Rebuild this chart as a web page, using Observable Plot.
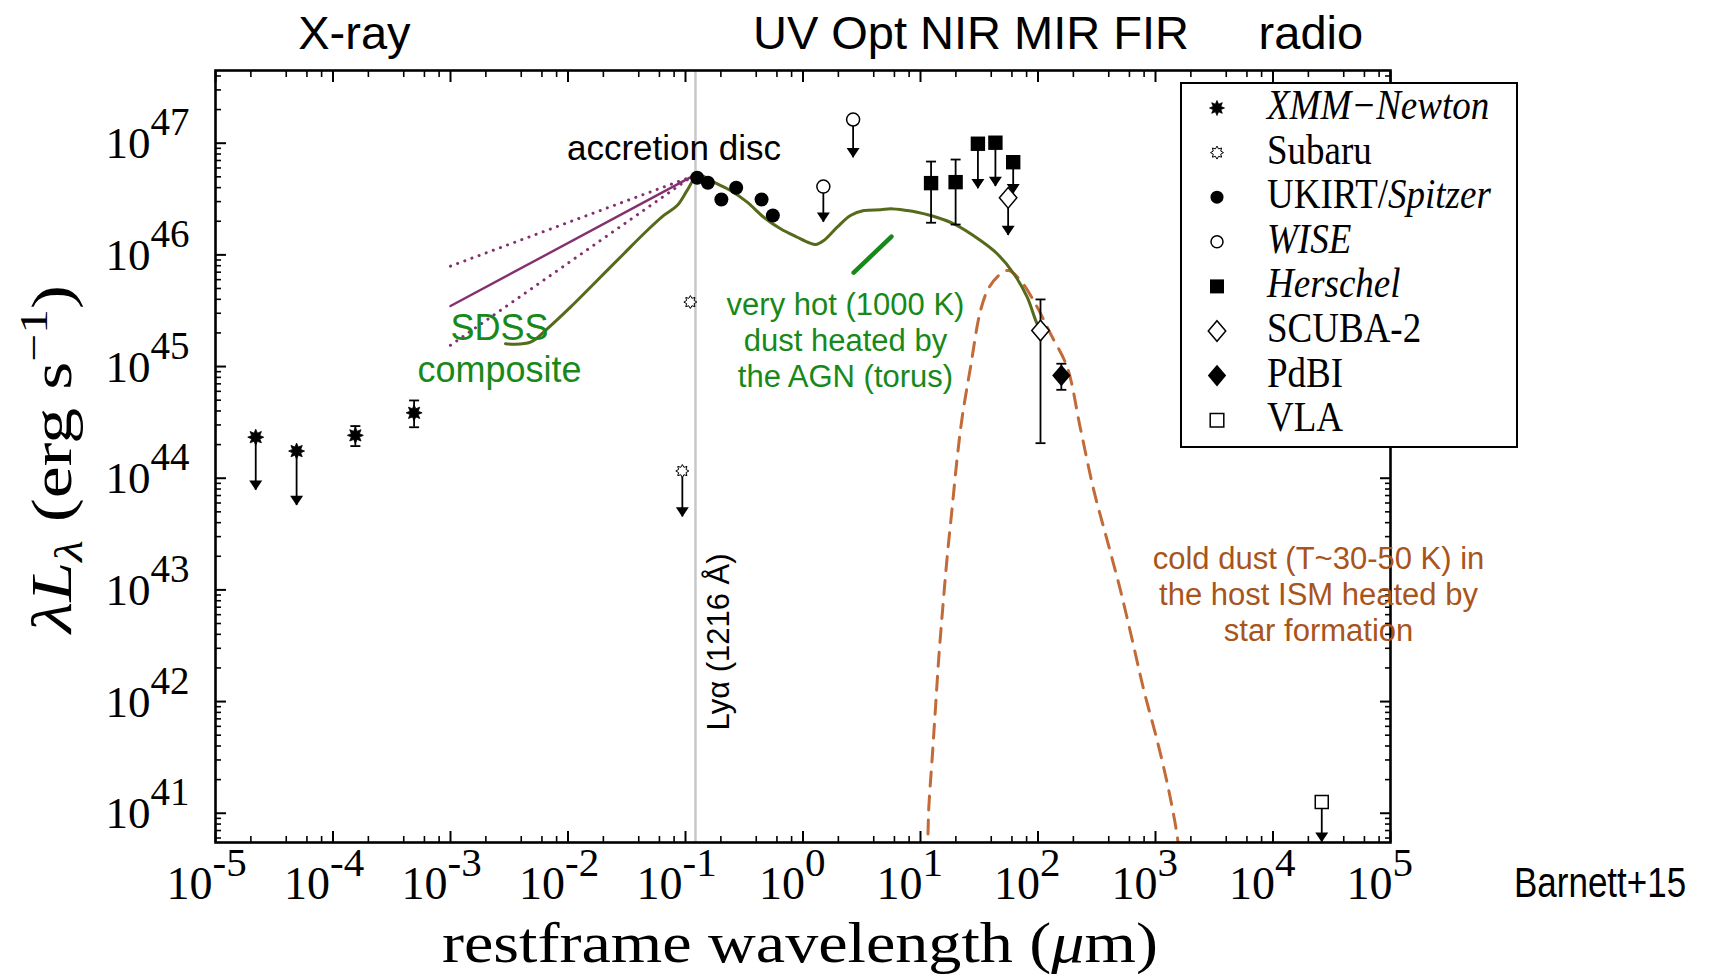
<!DOCTYPE html>
<html>
<head>
<meta charset="utf-8">
<script src="https://cdn.jsdelivr.net/npm/d3@7"></script>
<script src="https://cdn.jsdelivr.net/npm/@observablehq/plot@0.6"></script>
<style>
  body { margin: 0; background: #fff; }
  #chart { width: 1715px; height: 977px; }
</style>
</head>
<body>
<div id="chart"></div>
<script>
// ---------------- DATA ----------------
// axis ticks
const xTickExp = [-5, -4, -3, -2, -1, 0, 1, 2, 3, 4, 5];
const xMinorMult = [2, 4, 6, 8];
const yTickExp = [41, 42, 43, 44, 45, 46, 47];
const yMinorMult = [2, 3, 4, 5, 6, 7, 8, 9];
const yDomainExp = [40.738, 47.651];

// XMM-Newton (filled 8-point stars)
const xmmLam = [2.2e-5, 4.9e-5, 1.55e-4, 4.9e-4];
const xmmL = [2.33e44, 1.75e44, 2.42e44, 3.85e44];
const xmmLimitTo = [7.8e43, 5.7e43, null, null];
const xmmErrLo = [null, null, 1.94e44, 2.86e44];
const xmmErrHi = [null, null, 2.93e44, 4.97e44];

// Subaru (open stars)
const subaruLam = [0.094, 0.110];
const subaruL = [1.16e44, 3.78e45];
const subaruLimitTo = [4.5e43, null];

// UKIRT / Spitzer (filled circles)
const ukirtLam = [0.1256, 0.155, 0.202, 0.270, 0.444, 0.554];
const ukirtL = [4.90e46, 4.42e46, 3.13e46, 3.99e46, 3.13e46, 2.25e46];

// WISE (open circles, upper limits)
const wiseLam = [1.49, 2.67];
const wiseL = [4.09e46, 1.63e47];
const wiseLimitTo = [1.96e46, 7.40e46];

// Herschel (filled squares)
const herschelLam = [12.3, 19.9, 30.8, 43.4, 61.5];
const herschelL = [4.39e46, 4.48e46, 9.89e46, 1.01e47, 6.76e46];
const herschelLimitTo = [null, null, 3.91e46, 4.09e46, 3.52e46];
const herschelErrLo = [1.94e46, 1.87e46, null, null, null];
const herschelErrHi = [6.85e46, 7.14e46, null, null, null];

// SCUBA-2 (open diamonds)
const scubaLam = [55.7, 105];
const scubaL = [3.24e46, 2.10e45];
const scubaLimitTo = [1.49e46, null];
const scubaErrLo = [null, 2.06e44];
const scubaErrHi = [null, 3.99e45];

// PdBI (filled diamond)
const pdbiLam = [158];
const pdbiL = [8.32e44];
const pdbiErrLo = [6.19e44];
const pdbiErrHi = [1.06e45];

// VLA (open square, upper limit)
const vlaLam = [2.6e4];
const vlaL = [1.26e41];
const vlaLimitTo = [5.5e40];

// SED model curve (olive), log10 values
const sedLogLam = [-2.532, -2.319, -2.177, -1.979, -1.752, -1.525, -1.355, -1.185, -1.071, -0.986,
  -0.91, -0.85, -0.759, -0.617, -0.475, -0.334, -0.191, -0.049, 0.06, 0.106, 0.177, 0.291, 0.404,
  0.518, 0.660, 0.745, 0.887, 0.972, 1.085, 1.284, 1.511, 1.653, 1.794, 1.908, 1.993, 2.025];
const sedLogL = [45.204, 45.218, 45.338, 45.532, 45.771, 46.010, 46.189, 46.353, 46.442, 46.577,
  46.700, 46.705, 46.651, 46.577, 46.472, 46.337, 46.234, 46.158, 46.105, 46.093, 46.129, 46.248, 46.353,
  46.397, 46.404, 46.413, 46.397, 46.382, 46.353, 46.278, 46.129, 46.010, 45.831, 45.621, 45.383, 45.338];

// cold dust (dashed), log10 values
const dustLogLam = [1.055, 1.062, 1.071, 1.100, 1.128, 1.156, 1.190, 1.227, 1.270, 1.313, 1.355, 1.426,
  1.511, 1.585, 1.683, 1.75, 1.851, 1.993, 2.106, 2.248, 2.36, 2.475, 2.589, 2.702, 2.816, 2.901,
  3.014, 3.113, 3.184, 3.20];
const dustLogL = [40.60, 40.757, 41.055, 41.503, 41.951, 42.398, 42.846, 43.294, 43.741, 44.189, 44.547, 44.995,
  45.502, 45.711, 45.831, 45.860, 45.771, 45.532, 45.294, 44.995, 44.45, 43.891, 43.443, 42.995, 42.488, 42.100,
  41.652, 41.205, 40.803, 40.65];

// SDSS composite power-law lines
const sdssLam = [1e-3, 0.114];
const sdssMidL = [3.48e45, 5.04e46];
const sdssHiL = [7.93e45, 5.04e46];
const sdssLoL = [1.55e45, 5.04e46];

// very hot dust pointer
const hotLam = [2.70, 5.66];
const hotL = [6.92e45, 1.46e46];

// Ly-alpha
const lyaLam = [0.1216];

// text annotations (positions in data coordinates)
const bandLabels = ["X-ray", "UV Opt NIR MIR FIR", "radio"];
const bandLam = [1.52e-4, 26.9, 2.1e4];
const noteTexts = ["accretion disc", "SDSS\ncomposite", "very hot (1000 K)\ndust heated by\nthe AGN (torus)",
  "cold dust (T~30-50 K) in\nthe host ISM heated by\nstar formation"];
const noteLam = [0.0797, 2.61e-3, 2.30, 2.44e4];
const noteL = [7.0e46, 7.24e44, 6.55e44, 3.46e42];
const noteColor = ["#000000", "#17891a", "#17891a", "#a8541a"];
const lyaText = ["Lyα (1216 Å)"];
const lyaTextLam = [0.2366];
const lyaTextL = [3.42e42];

// ---------------- helpers ----------------
const SERIF = "'Liberation Serif', 'DejaVu Serif', serif";
const SANS = "'Liberation Sans', Arial, Helvetica, sans-serif";
const OLIVE = "#566a1c";
const PURPLE = "#84306f";
const GREEN = "#17891a";
const DUST = "#c26a38";

const rad = s => Math.sqrt(s / Math.PI);
function starSym(inner) {
  return {draw(ctx, s) {
    const r0 = rad(s);
    for (let i = 0; i < 16; i++) {
      const a = (i * Math.PI) / 8 - Math.PI / 2;
      const rr = i % 2 ? r0 * inner : r0;
      const px = rr * Math.cos(a), py = rr * Math.sin(a);
      if (i) ctx.lineTo(px, py); else ctx.moveTo(px, py);
    }
    ctx.closePath();
  }};
}
const symStarFilled = starSym(0.55);
const symStarOpen = starSym(0.62);
const symCircle = {draw(ctx, s) { const r = rad(s); ctx.moveTo(r, 0); ctx.arc(0, 0, r, 0, 2 * Math.PI); ctx.closePath(); }};
const symSquare = {draw(ctx, s) { const r = rad(s); ctx.moveTo(-r, -r); ctx.lineTo(r, -r); ctx.lineTo(r, r); ctx.lineTo(-r, r); ctx.closePath(); }};
const symDiamond = {draw(ctx, s) { const r = rad(s); ctx.moveTo(0, -r * 1.08); ctx.lineTo(r * 0.92, 0); ctx.lineTo(0, r * 1.08); ctx.lineTo(-r * 0.92, 0); ctx.closePath(); }};
const symArrowHead = {draw(ctx, s) { const r = rad(s); ctx.moveTo(0, 0); ctx.lineTo(-r, -1.5 * r); ctx.lineTo(r, -1.5 * r); ctx.closePath(); }};
const symCap = {draw(ctx, s) { const r = rad(s); ctx.moveTo(-r, 0); ctx.lineTo(r, 0); }};

function rows(lam, L, lim = [], lo = [], hi = []) {
  return lam.map((x, i) => ({lam: x, L: L[i], lim: lim[i] ?? null, lo: lo[i] ?? null, hi: hi[i] ?? null}));
}
const xmm = rows(xmmLam, xmmL, xmmLimitTo, xmmErrLo, xmmErrHi);
const subaru = rows(subaruLam, subaruL, subaruLimitTo);
const ukirt = rows(ukirtLam, ukirtL);
const wise = rows(wiseLam, wiseL, wiseLimitTo);
const herschel = rows(herschelLam, herschelL, herschelLimitTo, herschelErrLo, herschelErrHi);
const scuba = rows(scubaLam, scubaL, scubaLimitTo, scubaErrLo, scubaErrHi);
const pdbi = rows(pdbiLam, pdbiL, [], pdbiErrLo, pdbiErrHi);
const vla = rows(vlaLam, vlaL, vlaLimitTo);
const allPts = [...xmm, ...subaru, ...ukirt, ...wise, ...herschel, ...scuba, ...pdbi, ...vla];
const limits = allPts.filter(d => d.lim != null);
const errs = allPts.filter(d => d.lo != null);

const sed = sedLogLam.map((v, i) => ({lam: 10 ** v, L: 10 ** sedLogL[i]}));
const dust = dustLogLam.map((v, i) => ({lam: 10 ** v, L: 10 ** dustLogL[i]}));
const pair = (lam, L) => lam.map((x, i) => ({lam: x, L: L[i]}));

const yDomain = yDomainExp.map(e => 10 ** e);
const xMajor = xTickExp.map(e => 10 ** e);
const xMinor = xTickExp.slice(0, -1).flatMap(e => xMinorMult.map(m => m * 10 ** e));
const yMajor = yTickExp.map(e => 10 ** e);
const yMinor = [40, ...yTickExp].flatMap(e => yMinorMult.map(m => m * 10 ** e))
  .filter(v => v >= yDomain[0] && v <= yDomain[1]);
const xLab = xTickExp.map(e => ({v: 10 ** e, e}));
const yLab = yTickExp.map(e => ({v: 10 ** e, e}));

const tickAxes = [];
for (const anchor of ["bottom", "top"]) {
  tickAxes.push(Plot.axisX({anchor, ticks: xMajor, tickSize: -11, tickFormat: () => "", strokeWidth: 2, label: null}));
  tickAxes.push(Plot.axisX({anchor, ticks: xMinor, tickSize: -6, tickFormat: () => "", strokeWidth: 1.6, label: null}));
}
for (const anchor of ["left", "right"]) {
  tickAxes.push(Plot.axisY({anchor, ticks: yMajor, tickSize: -11, tickFormat: () => "", strokeWidth: 2, label: null}));
  tickAxes.push(Plot.axisY({anchor, ticks: yMinor, tickSize: -6, tickFormat: () => "", strokeWidth: 1.6, label: null}));
}

const plot = Plot.plot({
  width: 1715,
  height: 977,
  marginLeft: 215,
  marginRight: 325,
  marginTop: 70,
  marginBottom: 135,
  style: {background: "white", overflow: "visible"},
  x: {type: "log", domain: [1e-5, 1e5], axis: null, label: null},
  y: {type: "log", domain: yDomain, axis: null, label: null},
  marks: [
    // Ly-alpha line
    Plot.ruleX(lyaLam, {x: d => d, stroke: "#c8c8c8", strokeWidth: 2.5}),
    // curves
    Plot.line(pair(sdssLam, sdssHiL), {x: "lam", y: "L", stroke: PURPLE, strokeWidth: 3, strokeDasharray: "0.1,7.5", strokeLinecap: "round"}),
    Plot.line(pair(sdssLam, sdssLoL), {x: "lam", y: "L", stroke: PURPLE, strokeWidth: 3, strokeDasharray: "0.1,7.5", strokeLinecap: "round"}),
    Plot.line(pair(sdssLam, sdssMidL), {x: "lam", y: "L", stroke: PURPLE, strokeWidth: 2.4}),
    Plot.line(dust, {x: "lam", y: "L", stroke: DUST, strokeWidth: 3, strokeDasharray: "14,10", curve: "catmull-rom", clip: true}),
    Plot.line(sed, {x: "lam", y: "L", stroke: OLIVE, strokeWidth: 3, curve: "catmull-rom"}),
    Plot.line(pair(hotLam, hotL), {x: "lam", y: "L", stroke: GREEN, strokeWidth: 4.5}),
    // error bars
    Plot.ruleX(errs, {x: "lam", y1: "lo", y2: "hi", stroke: "black", strokeWidth: 1.8}),
    Plot.dot(errs, {x: "lam", y: "lo", symbol: symCap, r: 5, stroke: "black", strokeWidth: 1.8, fill: "none"}),
    Plot.dot(errs, {x: "lam", y: "hi", symbol: symCap, r: 5, stroke: "black", strokeWidth: 1.8, fill: "none"}),
    // upper limits
    Plot.ruleX(limits, {x: "lam", y1: "L", y2: "lim", stroke: "black", strokeWidth: 1.8}),
    Plot.dot(limits, {x: "lam", y: "lim", symbol: symArrowHead, r: 6.5, fill: "black", stroke: "none"}),
    // markers
    Plot.dot(xmm, {x: "lam", y: "L", symbol: symStarFilled, r: 8, fill: "black", stroke: "black", strokeWidth: 0.8}),
    Plot.dot(subaru, {x: "lam", y: "L", symbol: symStarOpen, r: 6.5, fill: "white", stroke: "black", strokeWidth: 1}),
    Plot.dot(ukirt, {x: "lam", y: "L", symbol: symCircle, r: 7, fill: "black", stroke: "none"}),
    Plot.dot(wise, {x: "lam", y: "L", symbol: symCircle, r: 6.5, fill: "white", stroke: "black", strokeWidth: 1.5}),
    Plot.dot(herschel, {x: "lam", y: "L", symbol: symSquare, r: 7.2, fill: "black", stroke: "none"}),
    Plot.dot(scuba, {x: "lam", y: "L", symbol: symDiamond, r: 9.5, fill: "white", stroke: "black", strokeWidth: 1.5}),
    Plot.dot(pdbi, {x: "lam", y: "L", symbol: symDiamond, r: 10, fill: "black", stroke: "none"}),
    Plot.dot(vla, {x: "lam", y: "L", symbol: symSquare, r: 6.5, fill: "white", stroke: "black", strokeWidth: 1.5}),
    // frame and ticks
    Plot.frame({stroke: "black", strokeWidth: 2.6}),
    ...tickAxes,
    // tick labels
    Plot.text(yLab, {y: "v", text: () => "10", frameAnchor: "left", textAnchor: "end", lineAnchor: "bottom",
      dx: -65, dy: 15, fontSize: 45, fontFamily: SERIF, fill: "black", ariaLabel: "tick10"}),
    Plot.text(yLab, {y: "v", text: d => String(d.e), frameAnchor: "left", textAnchor: "start", lineAnchor: "bottom",
      dx: -65, dy: -8, fontSize: 39, fontFamily: SERIF, fill: "black"}),
    Plot.text(xLab.filter(d => d.e < 0), {x: "v", text: () => "10", frameAnchor: "bottom", textAnchor: "end", lineAnchor: "bottom",
      dx: -3, dy: 56, fontSize: 46, fontFamily: SERIF, fill: "black", ariaLabel: "tick10"}),
    Plot.text(xLab.filter(d => d.e < 0), {x: "v", text: d => String(d.e), frameAnchor: "bottom", textAnchor: "start", lineAnchor: "bottom",
      dx: -3, dy: 33, fontSize: 41, fontFamily: SERIF, fill: "black"}),
    Plot.text(xLab.filter(d => d.e >= 0), {x: "v", text: () => "10", frameAnchor: "bottom", textAnchor: "end", lineAnchor: "bottom",
      dx: 2, dy: 56, fontSize: 46, fontFamily: SERIF, fill: "black", ariaLabel: "tick10"}),
    Plot.text(xLab.filter(d => d.e >= 0), {x: "v", text: d => String(d.e), frameAnchor: "bottom", textAnchor: "start", lineAnchor: "bottom",
      dx: 2, dy: 33, fontSize: 41, fontFamily: SERIF, fill: "black"}),
    // band labels on top
    Plot.text(bandLabels, {x: (d, i) => bandLam[i], text: d => d, frameAnchor: "top", lineAnchor: "bottom",
      dy: -22, fontSize: 47, fontFamily: SANS, fill: "black"}),
    // annotations
    Plot.text(noteTexts, {x: (d, i) => noteLam[i], y: (d, i) => noteL[i], text: d => d, lineAnchor: "bottom",
      fill: (d, i) => noteColor[i], fontSize: (d, i) => [35, 36, 31, 31][i], lineHeight: 1.17, fontFamily: SANS}),
    Plot.text(lyaText, {x: (d, i) => lyaTextLam[i], y: (d, i) => lyaTextL[i], text: d => d, rotate: -90,
      lineAnchor: "bottom", fontSize: 31, fontFamily: SANS, fill: "black"})
  ]
});

document.getElementById("chart").appendChild(plot);

// ---------- post-render: serif stretch, axis titles, legend, credit ----------
const svg = d3.select(plot);
svg.selectAll('g[aria-label="tick10"] text').each(function () {
  const t = this.getAttribute("transform") || "";
  this.setAttribute("transform", t + " scale(1,1.18)");
});

// axis titles
const xt = svg.append("text").attr("x", 800).attr("y", 962).attr("text-anchor", "middle")
  .attr("font-family", SERIF).attr("font-size", 56).attr("fill", "black")
  .attr("textLength", 716).attr("lengthAdjust", "spacingAndGlyphs");
xt.append("tspan").text("restframe wavelength (");
xt.append("tspan").attr("font-style", "italic").text("μ");
xt.append("tspan").text("m)");

const yt = svg.append("text").attr("transform", "translate(71,459) rotate(-90)").attr("text-anchor", "middle")
  .attr("font-family", SERIF).attr("font-size", 58).attr("fill", "black")
  .attr("textLength", 348).attr("lengthAdjust", "spacingAndGlyphs");
yt.append("tspan").attr("font-style", "italic").text("λL");
yt.append("tspan").attr("font-style", "italic").attr("font-size", 40).attr("dy", 11).text("λ");
yt.append("tspan").attr("dy", -11).text(" (erg s");
yt.append("tspan").attr("font-size", 40).attr("dy", -24).text("−1");
yt.append("tspan").attr("dy", 24).text(")");

// credit
svg.append("text").attr("transform", "translate(1514,897) scale(1,1.24)").attr("text-anchor", "start")
  .attr("font-family", SANS).attr("font-size", 35).attr("fill", "black").text("Barnett+15");

// legend
const legendItems = [
  {parts: [["XMM−Newton", true]], sym: symStarFilled, r: 7.5, fill: "black", stroke: "black", sw: 0.8},
  {parts: [["Subaru", false]], sym: symStarOpen, r: 6.5, fill: "white", stroke: "black", sw: 1},
  {parts: [["UKIRT/", false], ["Spitzer", true]], sym: symCircle, r: 6.5, fill: "black", stroke: "none", sw: 0},
  {parts: [["WISE", true]], sym: symCircle, r: 6, fill: "white", stroke: "black", sw: 1.5},
  {parts: [["Herschel", true]], sym: symSquare, r: 7, fill: "black", stroke: "none", sw: 0},
  {parts: [["SCUBA-2", false]], sym: symDiamond, r: 9.5, fill: "white", stroke: "black", sw: 1.5},
  {parts: [["PdBI", false]], sym: symDiamond, r: 10, fill: "black", stroke: "none", sw: 0},
  {parts: [["VLA", false]], sym: symSquare, r: 6.8, fill: "white", stroke: "black", sw: 1.5}
];
const lg = svg.append("g");
lg.append("rect").attr("x", 1181).attr("y", 83).attr("width", 336).attr("height", 364)
  .attr("fill", "white").attr("stroke", "black").attr("stroke-width", 2);
legendItems.forEach((it, i) => {
  const cy = 108 + i * 44.6;
  lg.append("path").attr("transform", `translate(1217,${cy})`)
    .attr("d", d3.symbol(it.sym, it.r * it.r * Math.PI)())
    .attr("fill", it.fill).attr("stroke", it.stroke).attr("stroke-width", it.sw);
  const t = lg.append("text").attr("transform", `translate(1267,${cy + 11}) scale(1,1.13)`)
    .attr("text-anchor", "start")
    .attr("font-family", SERIF).attr("font-size", 37).attr("fill", "black");
  it.parts.forEach(([s, ital]) => t.append("tspan").attr("font-style", ital ? "italic" : "normal").text(s));
});
</script>
</body>
</html>
